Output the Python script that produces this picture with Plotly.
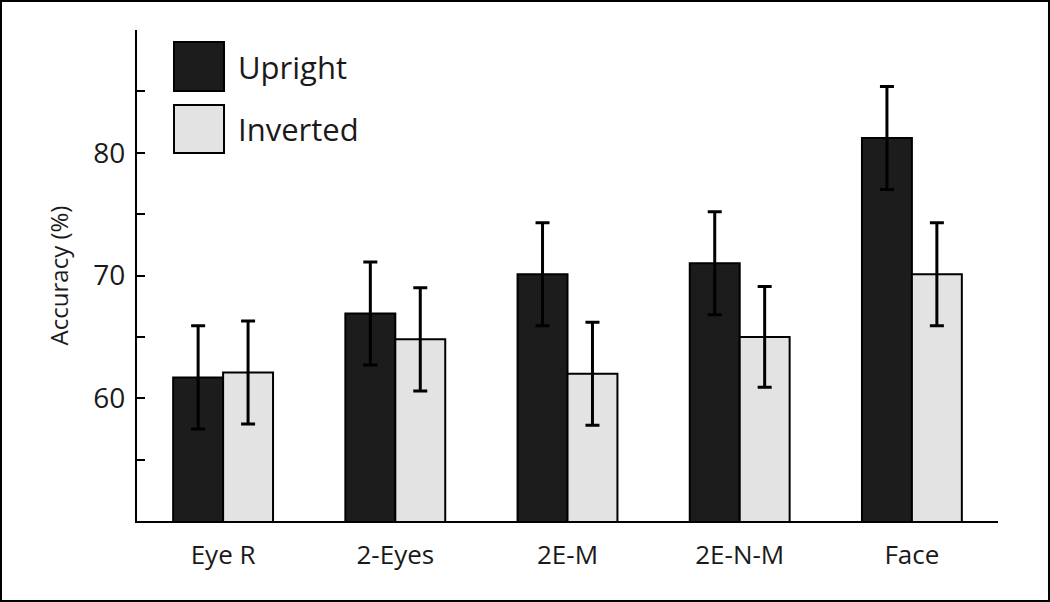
import plotly.graph_objects as go

# values
conditions = ['Eye R', '2-Eyes', '2E-M', '2E-N-M', 'Face']
upright = [61.7, 66.9, 70.1, 71.0, 81.2]
upright_err = [4.2, 4.2, 4.2, 4.2, 4.2]
inverted = [62.1, 64.8, 62.0, 65.0, 70.1]
inverted_err = [4.2, 4.2, 4.2, 4.1, 4.2]
y_ticks = [55, 60, 65, 70, 75, 80, 85, 90]
y_labels = ['', '60', '', '70', '', '80', '', '']

FONT = 'Open Sans'
L, R, T, B = 137, 52, 30, 81
W, H = 1050, 602
pw, ph = W - L - R, H - T - B

fig = go.Figure()
fig.add_trace(go.Bar(x=conditions, y=upright, name='Upright',
                     marker=dict(color='#1c1c1c', line=dict(color='black', width=2)),
                     error_y=dict(type='data', array=upright_err, color='black', thickness=3, width=7)))
fig.add_trace(go.Bar(x=conditions, y=inverted, name='Inverted',
                     marker=dict(color='#e3e3e3', line=dict(color='black', width=2)),
                     error_y=dict(type='data', array=inverted_err, color='black', thickness=3, width=7)))

# legend drawn by hand, the swatches are large in the original
def px(x):
    return (x - L) / pw

def py(y):
    return 1 - (y - T) / ph

for name, color, top, bot in [('Upright', '#1c1c1c', 42, 91), ('Inverted', '#e3e3e3', 105, 153)]:
    fig.add_shape(type='rect', xref='paper', yref='paper', x0=px(174), x1=px(224), y0=py(bot), y1=py(top),
                  fillcolor=color, line=dict(color='black', width=2))
    fig.add_annotation(text=name, xref='paper', yref='paper', x=px(236), y=py((top + bot) / 2),
                       xanchor='left', yanchor='middle', showarrow=False,
                       font=dict(family=FONT, size=31, color='#1a1a1a'))

# frame round the whole picture
fig.add_shape(type='rect', xref='paper', yref='paper', x0=px(1), x1=px(W - 1), y0=py(H - 1), y1=py(1),
              line=dict(color='black', width=2))

fig.update_layout(
    width=W, height=H, margin=dict(l=L, r=R, t=T, b=B),
    paper_bgcolor='white', plot_bgcolor='white',
    barmode='group', bargap=0.42, bargroupgap=0,
    showlegend=False,
    font=dict(family=FONT, color='#1a1a1a'),
    xaxis=dict(range=[-0.5, 4.5], showline=True, linecolor='black', linewidth=2,
               ticks='', tickfont=dict(size=26), ticklabelstandoff=10, showgrid=False),
    yaxis=dict(range=[50, 90], tickvals=y_ticks, ticktext=y_labels, ticks='inside', ticklen=8,
               tickwidth=2, tickcolor='black', showline=True, linecolor='black', linewidth=2,
               showgrid=False, zeroline=False, tickfont=dict(size=28), ticklabelstandoff=4,
               title=dict(text='Accuracy (%)', font=dict(size=24), standoff=18)),
)

# no page margin, so the figure fills the window exactly
fig.write_html('out.html', config={'displayModeBar': False},
               post_script="document.body.style.margin='0';")
